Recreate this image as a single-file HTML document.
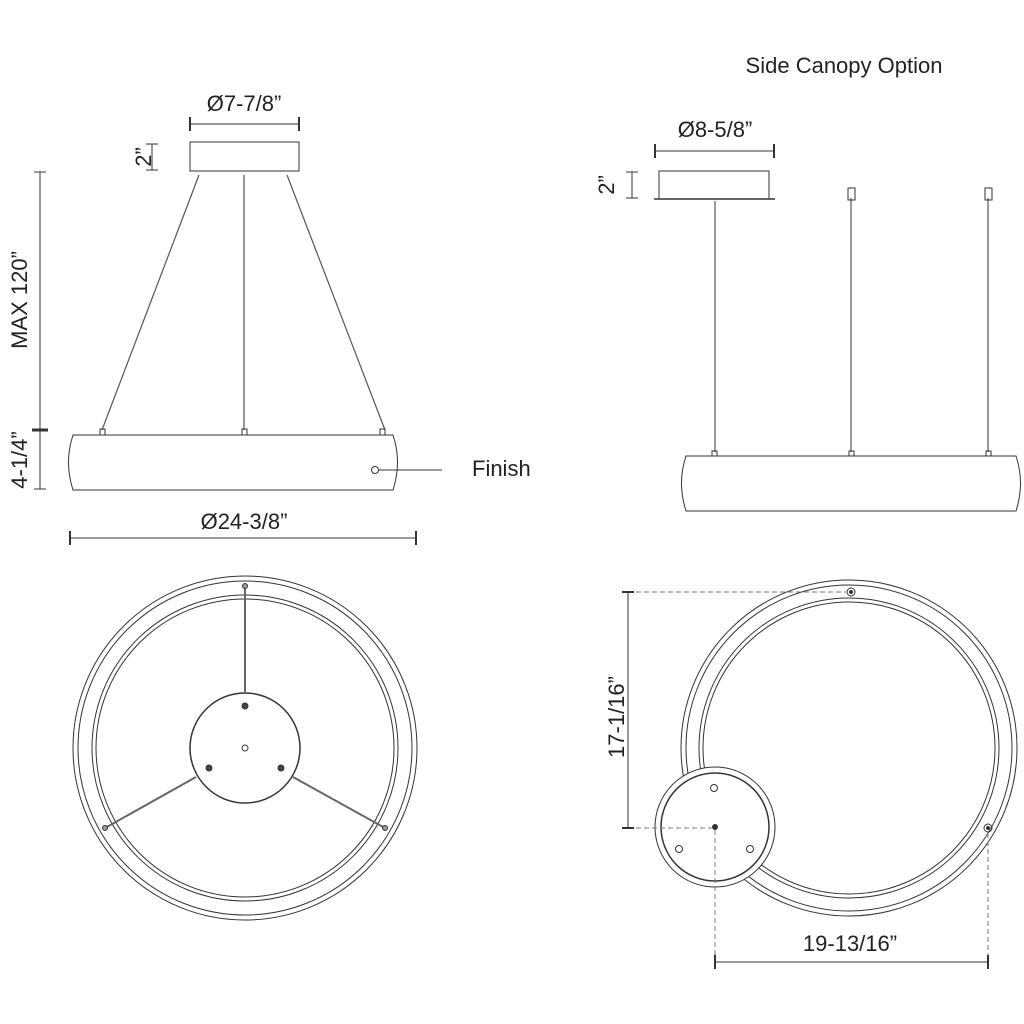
<!DOCTYPE html>
<html><head><meta charset="utf-8"><style>
html,body{margin:0;padding:0;background:#fff;}
svg{display:block;}
text{font-family:"Liberation Sans",Arial,sans-serif;fill:#222;}
</style></head><body>
<svg width="1024" height="1024" viewBox="0 0 1024 1024" xmlns="http://www.w3.org/2000/svg">
<g stroke="#333" fill="none" stroke-width="1">
<line x1="190" y1="124" x2="299" y2="124"/>
<line x1="190" y1="117" x2="190" y2="131" stroke-width="2"/>
<line x1="299" y1="117" x2="299" y2="131" stroke-width="2"/>
<rect x="190" y="142" width="109" height="29"/>
<line x1="146" y1="144" x2="158" y2="144"/><line x1="146" y1="170" x2="158" y2="170"/><line x1="152" y1="144" x2="152" y2="170"/>
<line x1="40" y1="172" x2="40" y2="489"/>
<line x1="34" y1="172" x2="46" y2="172"/>
<line x1="32" y1="430" x2="48" y2="430" stroke-width="3"/>
<line x1="34" y1="489" x2="46" y2="489"/>
<line x1="199" y1="175" x2="102" y2="430" stroke="#555" stroke-width="1.2"/>
<line x1="244" y1="175" x2="244" y2="430" stroke="#555" stroke-width="1.2"/>
<line x1="287" y1="175" x2="385" y2="430" stroke="#555" stroke-width="1.2"/>
<rect x="100" y="429" width="5" height="6"/><rect x="242" y="429" width="5" height="6"/><rect x="380" y="429" width="5" height="6"/>
<path d="M73 435 L393 435 Q402 462 393 490 L73 490 Q64 462 73 435 Z"/>
<circle cx="375" cy="470" r="3.5"/>
<line x1="379" y1="470" x2="442" y2="470"/>
<line x1="70" y1="538" x2="416" y2="538"/>
<line x1="70" y1="531" x2="70" y2="545" stroke-width="2"/>
<line x1="416" y1="531" x2="416" y2="545" stroke-width="2"/>

<circle cx="245" cy="748" r="172"/>
<circle cx="245" cy="748" r="167"/>
<circle cx="245" cy="748" r="153"/>
<circle cx="245" cy="748" r="149"/>
<circle cx="245" cy="748" r="55" stroke-width="1.5"/>
<line x1="245" y1="586" x2="245" y2="693" stroke="#666" stroke-width="2"/>
<line x1="105" y1="828" x2="196" y2="777" stroke="#666" stroke-width="2"/>
<line x1="385" y1="828" x2="293" y2="777" stroke="#666" stroke-width="2"/>
<circle cx="245" cy="586" r="2.5" fill="#999"/>
<circle cx="105" cy="828" r="2.5" fill="#999"/>
<circle cx="385" cy="828" r="2.5" fill="#999"/>
<circle cx="245" cy="706" r="3" fill="#444"/>
<circle cx="209" cy="768" r="3" fill="#444"/>
<circle cx="281" cy="768" r="3" fill="#444"/>
<circle cx="245" cy="748" r="3" fill="#fff"/>

<line x1="655" y1="151" x2="774" y2="151"/>
<line x1="655" y1="144" x2="655" y2="158" stroke-width="2"/>
<line x1="774" y1="144" x2="774" y2="158" stroke-width="2"/>
<rect x="659" y="171" width="110" height="28"/>
<line x1="654" y1="199" x2="775" y2="199" stroke-width="1.5"/>
<line x1="626" y1="172" x2="638" y2="172"/><line x1="626" y1="198" x2="638" y2="198"/><line x1="632" y1="172" x2="632" y2="198"/>
<line x1="715" y1="201" x2="715" y2="452" stroke="#555" stroke-width="1.2"/>
<line x1="851" y1="198" x2="851" y2="452" stroke="#555" stroke-width="1.2"/>
<line x1="988" y1="198" x2="988" y2="452" stroke="#555" stroke-width="1.2"/>
<rect x="848" y="188" width="7" height="12"/><rect x="985" y="188" width="7" height="12"/>
<rect x="712" y="451" width="5" height="5"/><rect x="849" y="451" width="5" height="5"/><rect x="986" y="451" width="5" height="5"/>
<path d="M686 456 L1016 456 Q1025 483 1016 511 L686 511 Q677 483 686 456 Z"/>

<circle cx="849" cy="748" r="168"/>
<circle cx="849" cy="748" r="163"/>
<circle cx="849" cy="748" r="150"/>
<circle cx="849" cy="748" r="146"/>
<circle cx="715" cy="827" r="60" fill="#fff"/>
<circle cx="715" cy="827" r="54" stroke-width="1.5"/>
<circle cx="715" cy="827" r="2.5" fill="#333"/>
<circle cx="714" cy="788" r="3.5"/>
<circle cx="679" cy="849" r="3.5"/>
<circle cx="750" cy="849" r="3.5"/>
<circle cx="851" cy="592" r="4"/><circle cx="851" cy="592" r="1.5" fill="#333"/>
<circle cx="988" cy="828" r="4"/><circle cx="988" cy="828" r="1.5" fill="#333"/>
<g stroke-dasharray="5,3" stroke="#777">
<line x1="628" y1="592" x2="846" y2="592"/>
<line x1="628" y1="828" x2="712" y2="828"/>
<line x1="715" y1="830" x2="715" y2="962"/>
<line x1="988" y1="833" x2="988" y2="962"/>
</g>
<line x1="628" y1="592" x2="628" y2="828"/>
<line x1="622" y1="592" x2="634" y2="592" stroke-width="2"/>
<line x1="622" y1="828" x2="634" y2="828" stroke-width="2"/>
<line x1="715" y1="962" x2="988" y2="962"/>
<line x1="715" y1="955" x2="715" y2="969" stroke-width="2"/>
<line x1="988" y1="955" x2="988" y2="969" stroke-width="2"/>
</g>

<g font-size="22" text-anchor="middle">
<text x="244" y="111">Ø7-7/8”</text>
<text x="715" y="137">Ø8-5/8”</text>
<text x="844" y="73">Side Canopy Option</text>
<text x="244" y="529">Ø24-3/8”</text>
<text x="850" y="951">19-13/16”</text>
<text x="472" y="476" text-anchor="start">Finish</text>
<text transform="translate(151,157) rotate(-90)">2”</text>
<text transform="translate(614,185) rotate(-90)">2”</text>
<text transform="translate(27,300) rotate(-90)">MAX 120”</text>
<text transform="translate(27,460) rotate(-90)">4-1/4”</text>
<text transform="translate(624,717) rotate(-90)">17-1/16”</text>
</g>
</svg>
</body></html>
